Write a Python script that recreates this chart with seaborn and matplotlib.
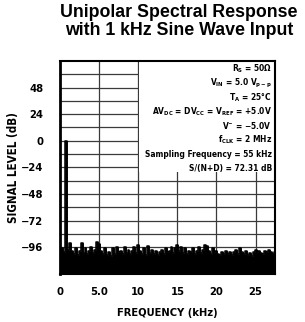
import matplotlib
matplotlib.use("Agg")
import matplotlib.pyplot as plt
import seaborn as sns
import pandas as pd
from matplotlib.patches import Rectangle

# ---- data ----
bin_khz = 0.25
level_db = [
    -99, -97, -100, 0, -98, -92, -99, -102, -97, -103, -99, -92, -101, -97, -102, -99,
    -96, -101, -98, -91, -93, -99, -102, -97, -103, -100, -104, -97, -102, -96, -100, -99,
    -102, -96, -101, -98, -102, -99, -96, -101, -94, -99, -102, -97, -103, -95, -101, -98,
    -102, -99, -103, -100, -98, -102, -97, -100, -99, -96, -101, -97, -94, -99, -96, -101,
    -97, -102, -99, -100, -97, -102, -99, -96, -101, -98, -94, -95, -99, -102, -97, -100,
    -99, -102, -103, -100, -102, -99, -102, -100, -103, -100, -98, -102, -97, -100, -102, -99,
    -103, -101, -104, -100, -98, -100, -99, -101, -102, -99, -100, -98, -100, -102, -100,
]
freq_khz = [i * bin_khz for i in range(len(level_db))]
x_ticks = [0, 5, 10, 15, 20, 25]
x_tick_labels = ["0", "5.0", "10", "15", "20", "25"]
y_ticks = [48, 24, 0, -24, -48, -72, -96]
y_tick_labels = ["48", "24", "0", "\u221224", "\u221248", "\u221272", "\u221296"]
y_grid = [60, 48, 36, 24, 12, 0, -12, -24, -36, -48, -60, -72, -84, -96, -108]
conditions = [
    r"R$_\mathregular{S}$ = 50$\Omega$",
    r"V$_\mathregular{IN}$ = 5.0 V$_\mathregular{p-p}$",
    r"T$_\mathregular{A}$ = 25°C",
    r"AV$_\mathregular{DC}$ = DV$_\mathregular{CC}$ = V$_\mathregular{REF}$ = +5.0V",
    r"V$^{-}$ = $-$5.0V",
    r"f$_\mathregular{CLK}$ = 2 MHz",
    "Sampling Frequency = 55 kHz",
    "S/(N+D) = 72.31 dB",
]

df = pd.DataFrame({"freq": freq_khz, "level": level_db})

sns.set_style("white")
plt.rcParams["font.family"] = ["DejaVu Sans"]
plt.rcParams["font.stretch"] = "condensed"
plt.rcParams["text.color"] = "black"
plt.rcParams["axes.labelcolor"] = "black"
plt.rcParams["xtick.color"] = "black"
plt.rcParams["ytick.color"] = "black"
plt.rcParams["mathtext.fontset"] = "custom"
plt.rcParams["mathtext.rm"] = "DejaVu Sans:bold"
plt.rcParams["mathtext.it"] = "DejaVu Sans:bold"
plt.rcParams["mathtext.bf"] = "DejaVu Sans:bold"

fig = plt.figure(figsize=(3.05, 3.22), dpi=100)
ax = fig.add_axes([0.197, 0.149, 0.705, 0.662])

ymin, ymax = -120, 72
xmin, xmax = 0, 27.5

# grid
for yv in y_grid:
    ax.axhline(yv, color="#3a3a3a", lw=0.9, zorder=0.5)
for xv in x_ticks[1:]:
    ax.axvline(xv, color="#3a3a3a", lw=0.9, zorder=0.5)

# text box area (white)
ax.add_patch(Rectangle((10.1, -28), xmax - 10.1, ymax + 28, facecolor="white",
                       edgecolor="none", zorder=1))

# spectrum
ax.fill_between(df["freq"], ymin, df["level"], step="mid", color="black",
                edgecolor="black", lw=0.5, zorder=3)
sns.lineplot(data=df, x="freq", y="level", drawstyle="steps-mid", color="black",
             lw=1.1, ax=ax, zorder=4)

ax.set_xlim(xmin, xmax)
ax.set_ylim(ymin, ymax)
ax.set_xticks(x_ticks)
ax.set_xticklabels(x_tick_labels)
ax.set_yticks(y_ticks)
ax.set_yticklabels(y_tick_labels)
ax.tick_params(axis="both", length=0, labelsize=8, labelcolor="black")
ax.tick_params(axis="y", pad=12)
ax.tick_params(axis="x", pad=9)
for lab in ax.get_xticklabels() + ax.get_yticklabels():
    lab.set_fontweight("bold")

for side in ["top", "right", "bottom"]:
    ax.spines[side].set_linewidth(1.5)
    ax.spines[side].set_color("black")
ax.spines["left"].set_linewidth(2.0)
ax.spines["left"].set_color("black")
for sp in ax.spines.values():
    sp.set_zorder(6)

ax.set_xlabel("FREQUENCY (kHz)", fontsize=8, fontweight="bold", labelpad=8)
ax.set_ylabel("SIGNAL LEVEL (dB)", fontsize=8.3, fontweight="bold")
ax.yaxis.set_label_coords(-0.185, 0.5)

# conditions text
y0 = 0.962
dy = 0.0665
for i, t in enumerate(conditions):
    ax.text(0.985, y0 - i * dy, t, transform=ax.transAxes, ha="right", va="center",
            fontsize=6.0, fontweight="bold", zorder=5)

fig.text(0.587, 0.988, "Unipolar Spectral Response\nwith 1 kHz Sine Wave Input",
         ha="center", va="top", fontsize=12.8, fontweight="bold",
         family=["Liberation Sans"], fontstretch="normal", linespacing=1.12)

fig.savefig("out.png", dpi=100)
